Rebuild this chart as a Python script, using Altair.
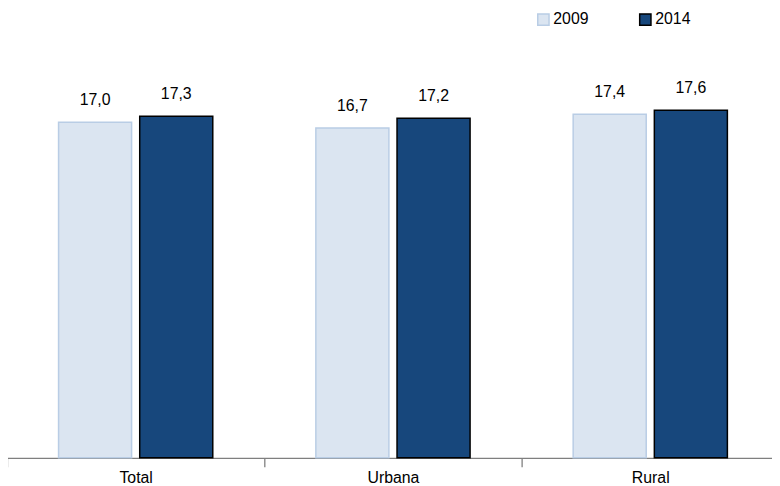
import altair as alt
import pandas as pd

categories = ["Total", "Urbana", "Rural"]
years = ["2009", "2014"]
values_2009 = [17.0, 16.7, 17.4]
values_2014 = [17.3, 17.2, 17.6]

rows = []
for i, c in enumerate(categories):
    for y, vals in zip(years, [values_2009, values_2014]):
        v = vals[i]
        rows.append({"cat": c, "year": y, "value": v,
                     "label": f"{v:.1f}".replace(".", ",")})
df = pd.DataFrame(rows)

FONT = "Liberation Sans"

x = alt.X("cat:N", sort=categories, title=None,
          scale=alt.Scale(range=[-1, 779], paddingInner=0, paddingOuter=0),
          axis=alt.Axis(labelAngle=0, tickBand="extent", domainColor="#7f7f7f",
                        tickColor="#7f7f7f", tickSize=9, labelFontSize=16,
                        labelFont=FONT, labelColor="#000000", labelPadding=3,
                        domainWidth=1.3, tickWidth=1.3))
xo = alt.XOffset("year:N", sort=years,
                 scale=alt.Scale(paddingInner=0.1, paddingOuter=0.635))
yenc = alt.Y("value:Q", scale=alt.Scale(domain=[0, 20]), axis=None)

bars = alt.Chart(df).mark_bar(strokeWidth=1.5).encode(
    x=x, xOffset=xo, y=yenc,
    fill=alt.Fill("year:N", sort=years,
                  scale=alt.Scale(domain=years, range=["#dbe5f1", "#17477c"]),
                  legend=alt.Legend(title=None, orient="none", legendX=533, legendY=-52,
                                    direction="horizontal", symbolType="square",
                                    symbolSize=130, symbolStrokeWidth=1.5,
                                    labelFontSize=16, labelFont=FONT,
                                    labelColor="#000000", columnPadding=48,
                                    labelOffset=2)),
    stroke=alt.Stroke("year:N", sort=years,
                      scale=alt.Scale(domain=years, range=["#b9cde5", "#000000"]),
                      legend=None),
)

text = alt.Chart(df).mark_text(dy=-14, baseline="bottom", fontSize=16, font=FONT,
                               color="#000000").encode(
    x=x, xOffset=xo, y=yenc, text="label:N"
)

chart = (bars + text).properties(
    width=772, height=399,
    autosize=alt.AutoSizeParams(type="none"),
    padding={"left": 0, "top": 53, "right": 0, "bottom": 26},
).configure_view(stroke=None).configure_axis(grid=False)

chart.save("out.html", embed_options={"renderer": "svg", "actions": False})
